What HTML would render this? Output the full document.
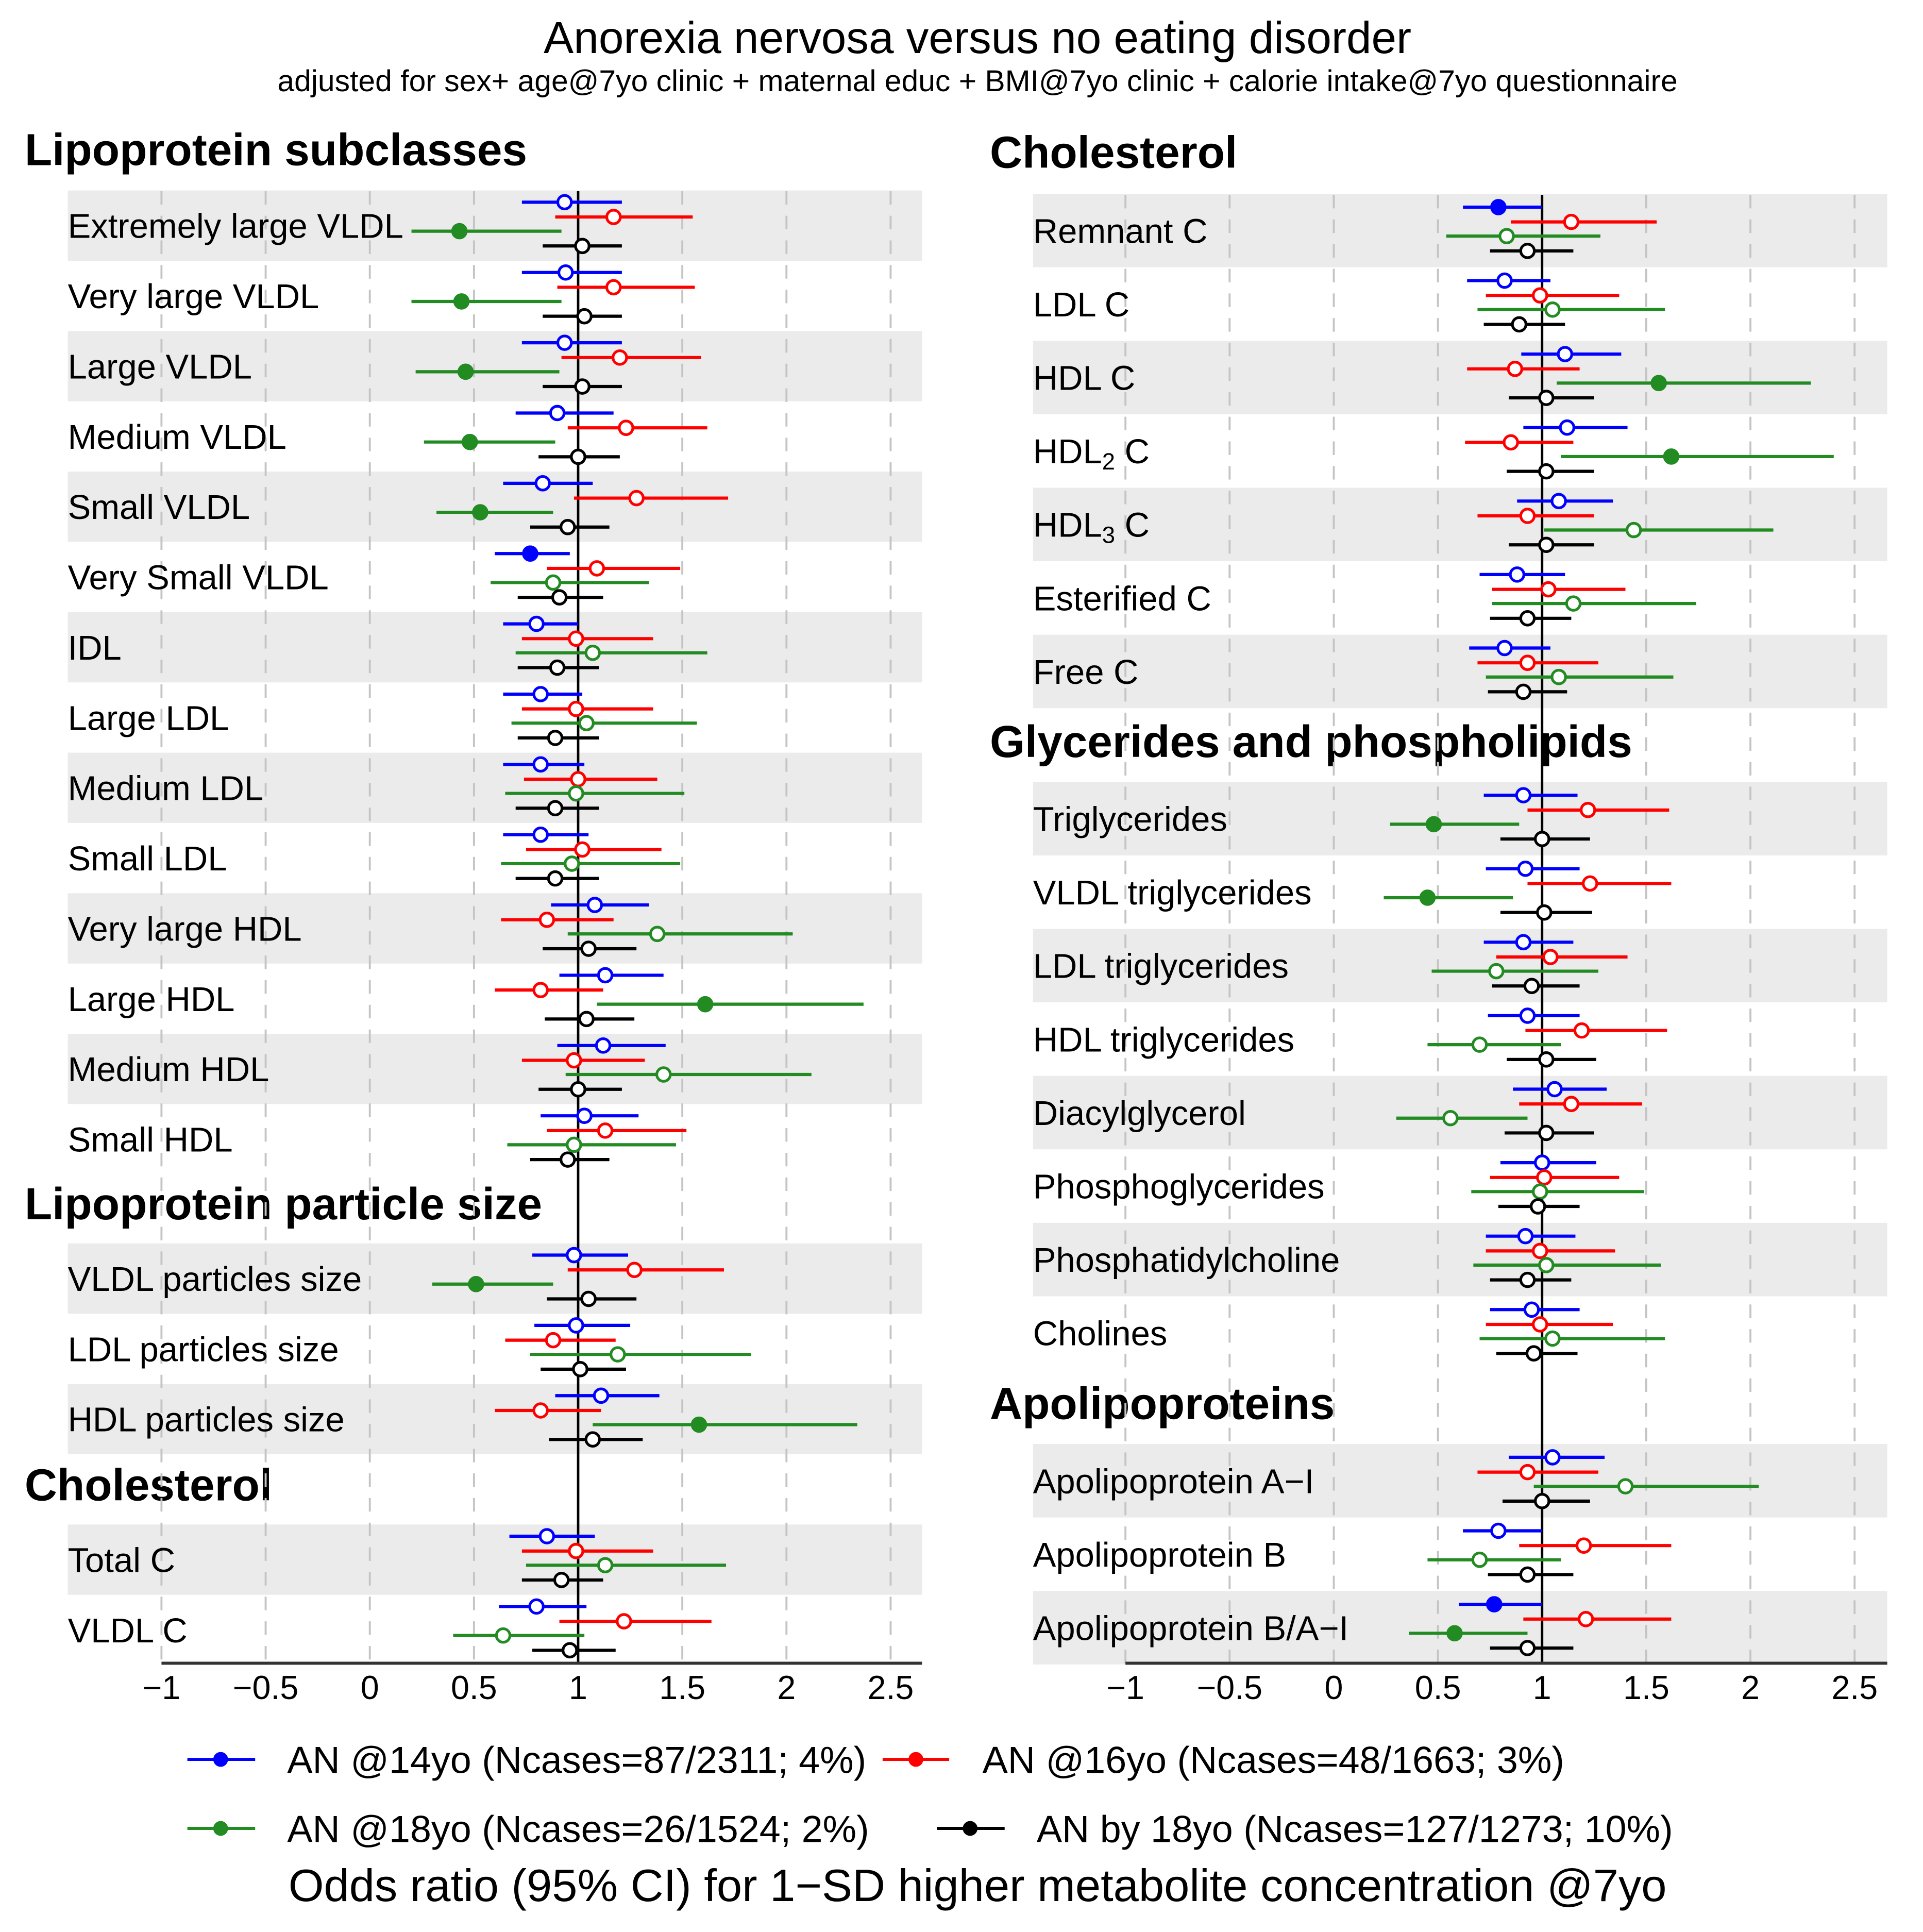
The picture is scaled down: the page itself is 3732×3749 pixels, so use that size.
<!DOCTYPE html>
<html><head><meta charset="utf-8"><style>
html,body{margin:0;padding:0;background:#fff}
svg{display:block}
text{font-family:"Liberation Sans",Arial,sans-serif;fill:#000}
</style></head><body>
<svg id="chart" xmlns="http://www.w3.org/2000/svg" width="3732" height="3749" viewBox="0 0 1560 1567" preserveAspectRatio="none">
<text x="793" y="43" font-size="36.5" text-anchor="middle">Anorexia nervosa versus no eating disorder</text>
<text x="793" y="74" font-size="24.6" text-anchor="middle">adjusted for sex+ age@7yo clinic + maternal educ + BMI@7yo clinic + calorie intake@7yo questionnaire</text>
<g id="plots"></g>
<g>
<line x1="152" y1="1427" x2="207" y2="1427" stroke="#0000ff" stroke-width="2.5"/><circle cx="179" cy="1427" r="6" fill="#0000ff"/>
<text x="233" y="1438" font-size="30.8">AN @14yo (Ncases=87/2311; 4%)</text>
<line x1="716" y1="1427" x2="770" y2="1427" stroke="#ff0000" stroke-width="2.5"/><circle cx="743" cy="1427" r="6" fill="#ff0000"/>
<text x="797" y="1438" font-size="30.8">AN @16yo (Ncases=48/1663; 3%)</text>
<line x1="152" y1="1483" x2="207" y2="1483" stroke="#228b22" stroke-width="2.5"/><circle cx="179" cy="1483" r="6" fill="#228b22"/>
<text x="233" y="1494" font-size="30.8">AN @18yo (Ncases=26/1524; 2%)</text>
<line x1="760" y1="1483" x2="815" y2="1483" stroke="#000" stroke-width="2.5"/><circle cx="787" cy="1483" r="6" fill="#000"/>
<text x="841" y="1494" font-size="30.8">AN by 18yo (Ncases=127/1273; 10%)</text>
</g>
<text x="793" y="1542" font-size="37" text-anchor="middle">Odds ratio (95% CI) for 1−SD higher metabolite concentration @7yo</text>
</svg>
<script>
const tickValues=[-1,-0.5,0,0.5,1,1.5,2,2.5];
const tickLabels=["−1","−0.5","0","0.5","1","1.5","2","2.5"];
// left panel
const leftSections=["Lipoprotein subclasses","Lipoprotein particle size","Cholesterol"];
const leftLabels=[["Extremely large VLDL","Very large VLDL","Large VLDL","Medium VLDL","Small VLDL","Very Small VLDL","IDL","Large LDL","Medium LDL","Small LDL","Very large HDL","Large HDL","Medium HDL","Small HDL"],["VLDL particles size","LDL particles size","HDL particles size"],["Total C","VLDL C"]];
const leftBlue=[[0.935,0.73,1.21],[0.94,0.73,1.21],[0.935,0.73,1.21],[0.9,0.7,1.17],[0.83,0.64,1.07],[0.77,0.6,0.96],[0.8,0.64,1.0],[0.82,0.64,1.02],[0.82,0.64,1.03],[0.82,0.64,1.05],[1.08,0.87,1.34],[1.13,0.91,1.41],[1.12,0.9,1.42],[1.03,0.82,1.29],[0.98,0.78,1.24],[0.99,0.79,1.25],[1.11,0.89,1.39],[0.85,0.67,1.08],[0.8,0.62,1.04]];
const leftRed=[[1.17,0.89,1.55],[1.17,0.9,1.56],[1.2,0.92,1.59],[1.23,0.95,1.62],[1.28,0.98,1.72],[1.09,0.85,1.49],[0.99,0.73,1.36],[0.99,0.73,1.36],[1.0,0.74,1.38],[1.02,0.75,1.4],[0.85,0.63,1.17],[0.82,0.6,1.12],[0.98,0.73,1.32],[1.13,0.85,1.52],[1.27,0.95,1.7],[0.88,0.65,1.18],[0.82,0.6,1.11],[0.99,0.73,1.36],[1.22,0.91,1.64]];
const leftGreen=[[0.43,0.2,0.92],[0.44,0.2,0.92],[0.46,0.22,0.91],[0.48,0.26,0.89],[0.53,0.32,0.88],[0.88,0.58,1.34],[1.07,0.7,1.62],[1.04,0.68,1.57],[0.99,0.65,1.51],[0.97,0.63,1.49],[1.38,0.95,2.03],[1.61,1.09,2.37],[1.41,0.94,2.12],[0.98,0.66,1.47],[0.51,0.3,0.88],[1.19,0.77,1.83],[1.58,1.07,2.34],[1.13,0.75,1.71],[0.64,0.4,1.03]];
const leftBlack=[[1.02,0.83,1.21],[1.03,0.83,1.21],[1.02,0.83,1.21],[1.0,0.81,1.2],[0.95,0.77,1.15],[0.91,0.71,1.12],[0.9,0.71,1.1],[0.89,0.71,1.1],[0.89,0.7,1.1],[0.89,0.7,1.1],[1.05,0.83,1.28],[1.04,0.84,1.27],[1.0,0.81,1.21],[0.95,0.77,1.15],[1.05,0.85,1.28],[1.01,0.82,1.23],[1.07,0.86,1.31],[0.92,0.73,1.12],[0.96,0.78,1.18]];
const leftBlueSig=[0,0,0,0,0,1,0,0,0,0,0,0,0,0,0,0,0,0,0];
const leftRedSig=[0,0,0,0,0,0,0,0,0,0,0,0,0,0,0,0,0,0,0];
const leftGreenSig=[1,1,1,1,1,0,0,0,0,0,0,1,0,0,1,0,1,0,0];
const leftBlackSig=[0,0,0,0,0,0,0,0,0,0,0,0,0,0,0,0,0,0,0];
// right panel
const rightSections=["Cholesterol","Glycerides and phospholipids","Apolipoproteins"];
const rightLabels=[["Remnant C","LDL C","HDL C","HDL2 C","HDL3 C","Esterified C","Free C"],["Triglycerides","VLDL triglycerides","LDL triglycerides","HDL triglycerides","Diacylglycerol","Phosphoglycerides","Phosphatidylcholine","Cholines"],["Apolipoprotein A−I","Apolipoprotein B","Apolipoprotein B/A−I"]];
const rightBlue=[[0.79,0.62,1.0],[0.82,0.64,1.04],[1.11,0.9,1.38],[1.12,0.91,1.41],[1.08,0.88,1.34],[0.88,0.7,1.11],[0.82,0.65,1.04],[0.91,0.72,1.17],[0.92,0.73,1.18],[0.91,0.72,1.15],[0.93,0.74,1.18],[1.06,0.86,1.31],[1.0,0.8,1.26],[0.92,0.73,1.16],[0.95,0.75,1.18],[1.05,0.84,1.3],[0.79,0.62,1.0],[0.77,0.6,1.0]];
const rightRed=[[1.14,0.85,1.55],[0.99,0.73,1.37],[0.87,0.64,1.18],[0.85,0.63,1.15],[0.93,0.69,1.25],[1.03,0.76,1.4],[0.93,0.69,1.27],[1.22,0.93,1.61],[1.23,0.93,1.62],[1.04,0.78,1.41],[1.19,0.92,1.6],[1.14,0.89,1.48],[1.01,0.75,1.37],[0.99,0.73,1.35],[0.99,0.73,1.34],[0.93,0.69,1.27],[1.2,0.89,1.62],[1.21,0.91,1.62]];
const rightGreen=[[0.83,0.54,1.28],[1.05,0.69,1.59],[1.56,1.07,2.29],[1.62,1.09,2.4],[1.44,1.01,2.11],[1.15,0.76,1.74],[1.08,0.73,1.63],[0.48,0.27,0.89],[0.45,0.24,0.86],[0.78,0.47,1.27],[0.7,0.45,1.09],[0.56,0.3,0.93],[0.99,0.66,1.49],[1.02,0.67,1.57],[1.05,0.7,1.59],[1.4,0.96,2.04],[0.7,0.45,1.09],[0.58,0.36,0.93]];
const rightBlack=[[0.93,0.75,1.15],[0.89,0.72,1.11],[1.02,0.84,1.25],[1.02,0.83,1.25],[1.02,0.84,1.25],[0.93,0.75,1.14],[0.91,0.74,1.12],[1.0,0.8,1.23],[1.01,0.8,1.24],[0.95,0.76,1.18],[1.02,0.83,1.26],[1.02,0.82,1.25],[0.98,0.79,1.18],[0.93,0.75,1.14],[0.96,0.78,1.17],[1.0,0.81,1.23],[0.93,0.74,1.15],[0.93,0.75,1.15]];
const rightBlueSig=[1,0,0,0,0,0,0,0,0,0,0,0,0,0,0,0,0,1];
const rightRedSig=[0,0,0,0,0,0,0,0,0,0,0,0,0,0,0,0,0,0];
const rightGreenSig=[0,0,1,1,0,0,0,1,1,0,0,0,0,0,0,0,0,1];
const rightBlackSig=[0,0,0,0,0,0,0,0,0,0,0,0,0,0,0,0,0,0];

const NS="http://www.w3.org/2000/svg";
const root=document.getElementById('plots');
function mk(tag,attrs,parent){const e=document.createElementNS(NS,tag);for(const k in attrs)e.setAttribute(k,attrs[k]);(parent||root).appendChild(e);return e;}
const colors=["#0000ff","#ff0000","#228b22","#000000"];
const seriesNames=["an-14yo","an-16yo","an-18yo","an-by-18yo"];
const offsets=[-19,-7,4.5,16.5];

function drawPanel(cfg){
  const g=mk('g',{});
  
  
  const xs=v=>cfg.x0+(v)*cfg.unit;
  const rowsY=[];
  cfg.sections.forEach((s,si)=>{
    const t=mk('text',{x:cfg.titleX,y:cfg.secTitleY[si]+13,'font-size':36.5,'font-weight':'bold'},g);
    t.textContent=s;
    
    
    cfg.labels[si].forEach((lab,ri)=>{
      const y=cfg.firstRowY[si]+ri*cfg.step;
      rowsY.push({y,lab,band:ri%2===0});
    });
  });
  rowsY.forEach(r=>{
    if(r.band){const b=mk('rect',{x:cfg.bandX0,y:r.y-cfg.step/2,width:cfg.bandX1-cfg.bandX0,height:cfg.step,fill:'#ebebeb'},g);
      
      }
  });
  tickValues.forEach(v=>{
    const l=mk('line',{x1:xs(v),x2:xs(v),y1:cfg.top,y2:cfg.axisY,stroke:'#c4c4c4','stroke-width':1.6,'stroke-dasharray':'11 9'},g);
    
    
  });
  rowsY.forEach(r=>{
    const t=mk('text',{x:cfg.bandX0,y:r.y+10,'font-size':28},g);
    
    
    const m=r.lab.match(/^HDL([23]) C$/);
    if(m){t.textContent='HDL';const sub=mk('tspan',{'font-size':19,dy:5},t);sub.textContent=m[1];const rest=mk('tspan',{dy:-5},t);rest.textContent=' C';}
    else t.textContent=r.lab;
  });
  const ref=mk('line',{x1:xs(1),x2:xs(1),y1:cfg.top,y2:cfg.axisY,stroke:'#000','stroke-width':2},g);
  
  
  cfg.series.forEach((ser,k)=>{
    ser.forEach((d,i)=>{
      const y=rowsY[i].y+offsets[k];
      const ln=mk('line',{x1:xs(d[1]),x2:xs(d[2]),y1:y,y2:y,stroke:colors[k],'stroke-width':2.6},g);
      
      
      const filled=cfg.sig[k][i];
      const c=mk('circle',{cx:xs(d[0]),cy:y,r:5.5,fill:filled?colors[k]:'#fff',stroke:colors[k],'stroke-width':2.2},g);
      
      
    });
  });
  const ax=mk('line',{x1:xs(-1),x2:cfg.bandX1,y1:cfg.axisY,y2:cfg.axisY,stroke:'#333','stroke-width':2.5},g);
  
  
  tickValues.forEach((v,i)=>{
    const t=mk('text',{x:xs(v),y:cfg.axisY+29,'font-size':27,'text-anchor':'middle'},g);
    t.textContent=tickLabels[i];
    
    
  });
}
drawPanel({name:'left-panel',x0:300,unit:169,bandX0:55,bandX1:748,titleX:20,top:155,axisY:1349,step:57,
  sections:leftSections,labels:leftLabels,secTitleY:[121,976,1204],firstRowY:[183,1037,1265],
  series:[leftBlue,leftRed,leftGreen,leftBlack],sig:[leftBlueSig,leftRedSig,leftGreenSig,leftBlackSig]});
drawPanel({name:'right-panel',x0:1082,unit:169,bandX0:838,bandX1:1531,titleX:803,top:158,axisY:1349,step:59.6,
  sections:rightSections,labels:rightLabels,secTitleY:[123,601,1138],firstRowY:[187,664,1201],
  series:[rightBlue,rightRed,rightGreen,rightBlack],sig:[rightBlueSig,rightRedSig,rightGreenSig,rightBlackSig]});
</script>
</body></html>
